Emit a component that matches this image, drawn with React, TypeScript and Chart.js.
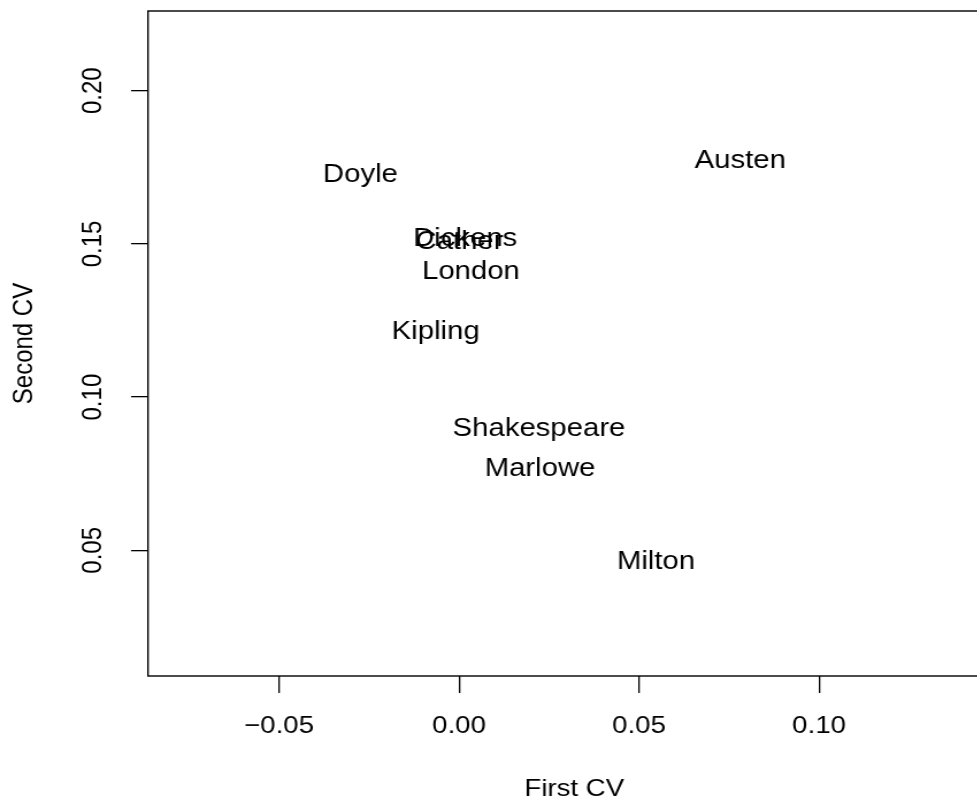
import React, { useEffect, useRef } from "react";
import { Chart, registerables } from "chart.js";

Chart.register(...registerables);

// ---- data ----
const AUTHORS = ["Austen", "Cather", "Dickens", "Doyle", "Kipling", "London", "Marlowe", "Milton", "Shakespeare"];
const FIRST_CV = [0.0781, 0.0001, 0.0017, -0.0274, -0.0065, 0.0033, 0.0225, 0.0547, 0.0222];
const SECOND_CV = [0.1772, 0.1506, 0.1515, 0.1724, 0.1212, 0.1409, 0.0766, 0.0462, 0.0896];
const X_TICKS = [-0.05, 0, 0.05, 0.1];
const Y_TICKS = [0.05, 0.1, 0.15, 0.2];
const X_RANGE = [-0.0864, 0.1504];
const Y_RANGE = [0.009, 0.226];
const X_TITLE = "First CV";
const Y_TITLE = "Second CV";

// ---- layout ----
const STRETCH = 1.15; // horizontal stretch of the reference rendering
const W = 870;
const H = 804;
const FONT = "'Liberation Sans', Arial, Helvetica, sans-serif";
const FS = 24;
const LABEL_FS = 25.5;

const fmt = (v: number) => (v < 0 ? "\u2212" + Math.abs(v).toFixed(2) : v.toFixed(2));

const labelPlugin = {
  id: "pointLabels",
  afterDatasetsDraw(chart: any) {
    const ctx = chart.ctx;
    const meta = chart.getDatasetMeta(0);
    ctx.save();
    ctx.fillStyle = "#000";
    ctx.font = `${LABEL_FS}px ${FONT}`;
    ctx.textAlign = "center";
    ctx.textBaseline = "middle";
    meta.data.forEach((el: any, i: number) => {
      ctx.fillText(AUTHORS[i], el.x, el.y);
    });
    ctx.restore();
  },
};

const boxPlugin = {
  id: "plotBox",
  afterDraw(chart: any) {
    const { ctx, chartArea } = chart;
    ctx.save();
    ctx.strokeStyle = "#000";
    ctx.lineWidth = 1.4;
    ctx.strokeRect(chartArea.left, chartArea.top, chartArea.right - chartArea.left, chartArea.bottom - chartArea.top);
    ctx.restore();
  },
};

export default function App() {
  const ref = useRef<HTMLCanvasElement | null>(null);

  useEffect(() => {
    if (!ref.current) return;
    const chart = new Chart(ref.current, {
      type: "scatter",
      data: {
        datasets: [
          {
            label: "authors",
            data: FIRST_CV.map((x, i) => ({ x, y: SECOND_CV[i] })),
            pointRadius: 0,
            pointHoverRadius: 0,
          },
        ],
      },
      options: {
        animation: false,
        responsive: false,
        devicePixelRatio: 1,
        events: [],
        layout: { padding: { top: 11, left: 0, right: 0, bottom: 0 } },
        plugins: { legend: { display: false }, tooltip: { enabled: false } },
        scales: {
          x: {
            type: "linear",
            position: "bottom",
            min: X_RANGE[0],
            max: X_RANGE[1],
            afterBuildTicks: (s: any) => {
              s.ticks = X_TICKS.map((v) => ({ value: v }));
            },
            afterFit: (s: any) => {
              s.height = 128;
              s.paddingLeft = 0;
              s.paddingRight = 0;
            },
            grid: { display: true, drawOnChartArea: false, drawTicks: true, tickLength: 17, color: "#000", lineWidth: 1.3 },
            border: { display: false },
            ticks: {
              color: "#000",
              font: { family: FONT, size: FS },
              padding: 18.6,
              minRotation: 0,
              maxRotation: 0,
              autoSkip: false,
              callback: (v: any) => fmt(Number(v)),
            },
            title: { display: true, text: X_TITLE, color: "#000", font: { family: FONT, size: FS }, padding: { top: 0, bottom: 0 } },
          },
          y: {
            type: "linear",
            position: "left",
            min: Y_RANGE[0],
            max: Y_RANGE[1],
            afterBuildTicks: (s: any) => {
              s.ticks = Y_TICKS.map((v) => ({ value: v }));
            },
            afterFit: (s: any) => {
              s.width = 148 / STRETCH;
              s.paddingTop = 0;
              s.paddingBottom = 0;
            },
            grid: { display: true, drawOnChartArea: false, drawTicks: true, tickLength: 17 / STRETCH, color: "#000", lineWidth: 1.3 },
            border: { display: false },
            ticks: {
              color: "#000",
              font: { family: FONT, size: FS },
              padding: 8.85,
              minRotation: 90,
              maxRotation: 90,
              crossAlign: "center",
              autoSkip: false,
              callback: (v: any) => fmt(Number(v)),
            },
            title: { display: true, text: Y_TITLE, color: "#000", font: { family: FONT, size: FS }, padding: { top: 7.3, bottom: 0 } },
          },
        },
      },
      plugins: [labelPlugin, boxPlugin],
    } as any);
    return () => chart.destroy();
  }, []);

  return (
    <div style={{ position: "fixed", left: 0, top: 0, width: 977, height: H, overflow: "hidden", background: "#fff" }}>
      <div style={{ width: W, height: H, transform: `scaleX(${STRETCH})`, transformOrigin: "0 0" }}>
        <canvas ref={ref} width={W} height={H} style={{ width: W, height: H, display: "block" }} />
      </div>
    </div>
  );
}
